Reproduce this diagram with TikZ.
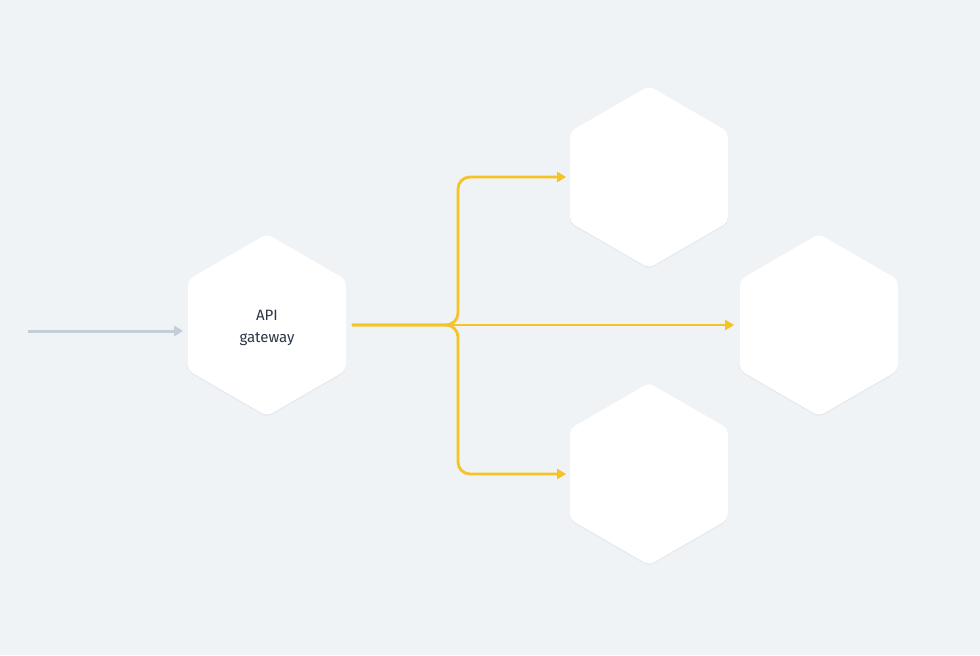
\documentclass[tikz,border=0pt]{standalone}
\usepackage{fontspec}
\setmainfont{Fira Sans}
\usepackage{tikz}
\usetikzlibrary{shapes.geometric,arrows.meta,calc,positioning}
\definecolor{bgc}{HTML}{EFF3F6}
\definecolor{inc}{HTML}{C3CED8}
\definecolor{yel}{HTML}{F5C326}
\definecolor{txt}{HTML}{2B3645}
\definecolor{shd}{HTML}{E3E8EC}
\tikzstyle{hx}=[regular polygon,regular polygon sides=6,shape border rotate=30,minimum size=91pt,inner sep=0pt,outer sep=0pt,rounded corners=2.5pt,fill=white,draw=none,preaction={fill=shd,transform canvas={yshift=-0.6pt}}]
\tikzstyle{hxtext}=[align=center,font=\fontsize{7.5pt}{11pt}\selectfont,text=txt]
\tikzset{
	inArrow/.style={line width=1.5pt,draw=inc,-{Triangle[length=4.5pt,width=5pt]}},
	ylArrow/.style={line width=1.4pt,draw=yel,rounded corners=6pt,-{Triangle[length=4.5pt,width=5pt]}}
}
\begin{document}
\begin{tikzpicture}[x=0.5pt,y=-0.5pt]
    \fill[bgc] (0,0) rectangle (980,655);
    \useasboundingbox (0,0) rectangle (980,655);
    \node (gw) [hx,label={[hxtext,yshift=-1.5pt]center:API\\gateway}] at (267,325) {};
    \node (svc1) [hx] at (649,177) {};
    \node (svc2) [hx] at (819,325) {};
    \node (svc3) [hx] at (649,474) {};
    \coordinate (src) at (28,331);
    \coordinate (fork) at (458,325);

    \draw[inArrow] (src) -- ($(src -| gw.west)+(-5,0)$);
    \draw[ylArrow] ($(gw.east)+(6,0)$) -- (fork) -- (fork |- svc1) -- ($(svc1.west)+(-4,0)$);
    \draw[ylArrow] ($(gw.east)+(6,0)$) -- (fork) -- (fork |- svc3) -- ($(svc3.west)+(-4,0)$);
    \draw[ylArrow] ($(gw.east)+(6,0)$) -- ($(svc2.west)+(-6,0)$);
  \end{tikzpicture}
\end{document}
